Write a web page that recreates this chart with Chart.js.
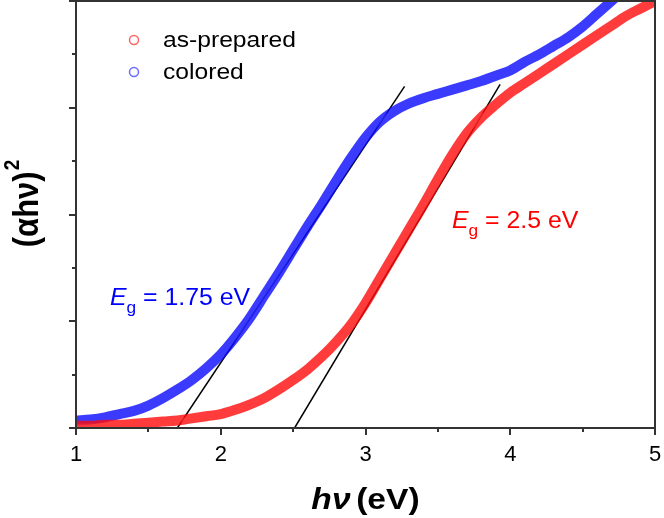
<!DOCTYPE html>
<html>
<head>
<meta charset="utf-8">
<script src="https://cdn.jsdelivr.net/npm/chart.js@4.4.0/dist/chart.umd.min.js"></script>
<style>
  html, body { margin: 0; background: #fff; }
</style>
</head>
<body>
<canvas id="myChart" width="664" height="518"></canvas>
<script>
// data: (alpha h nu)^2 against photon energy
const coloredX = [1.0, 1.1, 1.2, 1.3, 1.4, 1.5, 1.6, 1.7, 1.8, 1.9, 2.0, 2.1, 2.2, 2.3, 2.4, 2.5, 2.6, 2.7, 2.8, 2.9,
    3.0, 3.1, 3.2, 3.3, 3.4, 3.5, 3.6, 3.7, 3.8, 3.9, 4.0, 4.1, 4.2, 4.3, 4.4, 4.5, 4.6, 4.7, 4.75];
const coloredY = [0.07, 0.08, 0.10, 0.13, 0.16, 0.21, 0.28, 0.36, 0.45, 0.56, 0.69, 0.85, 1.03, 1.24, 1.45, 1.67, 1.89, 2.10, 2.32, 2.53,
    2.72, 2.87, 2.97, 3.04, 3.09, 3.13, 3.17, 3.21, 3.25, 3.30, 3.35, 3.43, 3.50, 3.58, 3.66, 3.76, 3.88, 4.0, 4.06];

const preparedX = [1.0, 1.1, 1.2, 1.3, 1.4, 1.5, 1.6, 1.7, 1.8, 1.9, 2.0, 2.1, 2.2, 2.3, 2.4, 2.5, 2.6, 2.7, 2.8, 2.9,
    3.0, 3.1, 3.2, 3.3, 3.4, 3.5, 3.6, 3.7, 3.8, 3.9, 4.0, 4.1, 4.2, 4.3, 4.4, 4.5, 4.6, 4.7, 4.8, 4.9, 5.0];
const preparedY = [0.02, 0.02, 0.03, 0.03, 0.04, 0.05, 0.06, 0.07, 0.09, 0.11, 0.13, 0.17, 0.22, 0.28, 0.36, 0.45, 0.55, 0.67, 0.81, 0.97,
    1.17, 1.40, 1.63, 1.86, 2.09, 2.33, 2.56, 2.76, 2.91, 3.03, 3.14, 3.23, 3.32, 3.41, 3.50, 3.59, 3.68, 3.77, 3.86, 3.93, 4.0];

// tangent lines (x, y) end points
const fitColoredX = [1.70, 3.27];
const fitColoredY = [0, 3.20];
const fitPreparedX = [2.51, 3.93];
const fitPreparedY = [0, 3.22];

const seriesLabels = ["as-prepared", "colored"];
const gapLabels = ["2.5 eV", "1.75 eV"];
const xTicks = [1, 2, 3, 4, 5];
const xMinor = [1.5, 2.5, 3.5, 4.5];
const yMajor = [0, 1, 2, 3, 4];
const yMinor = [0.5, 1.5, 2.5, 3.5];

const FONT = "'Liberation Sans', Arial, sans-serif";
const RED = "rgb(255, 0, 0)";
const BLUE = "rgb(0, 0, 255)";
const SX = 1.12; // text in the picture is a bit wide

function pts(xs, ys) {
    return xs.map((x, i) => ({ x: x, y: ys[i] }));
}

// draws frame, minor ticks, legend, labels
const extras = {
    id: "extras",
    afterDatasetsDraw(chart) {
        const ctx = chart.ctx;
        const a = chart.chartArea;
        const xs = chart.scales.x;
        const ys = chart.scales.y;
        ctx.save();
        ctx.strokeStyle = "#333";
        ctx.lineWidth = 2;
        ctx.strokeRect(a.left, a.top, a.right - a.left, a.bottom - a.top);

        ctx.beginPath();
        xMinor.forEach(v => {
            const px = Math.round(xs.getPixelForValue(v));
            ctx.moveTo(px, a.bottom);
            ctx.lineTo(px, a.bottom + 4);
        });
        yMinor.forEach(v => {
            const py = Math.round(ys.getPixelForValue(v));
            ctx.moveTo(a.left, py);
            ctx.lineTo(a.left - 4, py);
        });
        ctx.stroke();

        // legend
        const legendCol = ["rgba(255,60,60,0.8)", "rgba(70,70,255,0.8)"];
        seriesLabels.forEach((lab, i) => {
            const y = 40 + i * 32;
            ctx.beginPath();
            ctx.lineWidth = 1.5;
            ctx.strokeStyle = legendCol[i];
            ctx.arc(134, y, 4.5, 0, Math.PI * 2);
            ctx.stroke();
            ctx.save();
            ctx.translate(163, y + 1);
            ctx.scale(SX, 1);
            ctx.textBaseline = "middle";
            ctx.font = "22px " + FONT;
            ctx.fillStyle = "#000";
            ctx.fillText(lab, 0, 0);
            ctx.restore();
        });

        // band gap notes
        function gap(txt, x, y, col) {
            ctx.save();
            ctx.translate(x, y);
            ctx.scale(1.08, 1);
            ctx.textBaseline = "alphabetic";
            ctx.fillStyle = col;
            ctx.font = "italic 23px " + FONT;
            ctx.fillText("E", 0, 0);
            let w = ctx.measureText("E").width;
            ctx.font = "16px " + FONT;
            ctx.fillText("g", w, 8);
            w += ctx.measureText("g").width;
            ctx.font = "23px " + FONT;
            ctx.fillText(" = " + txt, w, 0);
            ctx.restore();
        }
        gap(gapLabels[0], 452, 228, RED);
        gap(gapLabels[1], 110, 305, BLUE);

        // x axis title
        ctx.save();
        ctx.fillStyle = "#000";
        ctx.textBaseline = "alphabetic";
        ctx.font = "italic bold 30px " + FONT;
        const t1 = "h\u03bd";
        const w1 = ctx.measureText(t1).width + 5;
        ctx.font = "bold 30px " + FONT;
        const t2 = "(eV)";
        const w2 = ctx.measureText(t2).width;
        ctx.translate((a.left + a.right) / 2 - (w1 + w2) * SX / 2, 509);
        ctx.scale(SX, 1);
        ctx.font = "italic bold 30px " + FONT;
        ctx.fillText(t1, 0, 0);
        ctx.font = "bold 30px " + FONT;
        ctx.fillText(t2, w1, 0);
        ctx.restore();

        // y axis title
        ctx.save();
        ctx.fillStyle = "#000";
        ctx.translate(28, 204);
        ctx.rotate(-Math.PI / 2);
        ctx.scale(1, SX);
        ctx.textBaseline = "middle";
        ctx.font = "bold 31px " + FONT;
        const t3 = "(\u03b1h\u03bd)";
        const w3 = ctx.measureText(t3).width;
        ctx.font = "bold 19px " + FONT;
        const w4 = ctx.measureText("2").width;
        const x0 = -(w3 + w4) / 2;
        ctx.font = "bold 31px " + FONT;
        ctx.fillText(t3, x0, 0);
        ctx.font = "bold 19px " + FONT;
        ctx.fillText("2", x0 + w3 + 1, -13);
        ctx.restore();

        ctx.restore();
    }
};

function band(label, data, col) {
    return {
        label: label,
        data: data,
        borderColor: col,
        borderWidth: 10,
        cubicInterpolationMode: "monotone",
        pointRadius: 0
    };
}

function core(data) {
    return {
        data: data,
        borderColor: "rgba(255, 255, 255, 0.45)",
        borderWidth: 4,
        cubicInterpolationMode: "monotone",
        pointRadius: 0
    };
}

const ctx = document.getElementById("myChart").getContext("2d");
const prepared = pts(preparedX, preparedY);
const colored = pts(coloredX, coloredY);

const chart = new Chart(ctx, {
    type: "line",
    data: {
        datasets: [
            band(seriesLabels[0], prepared, "rgba(255, 10, 10, 0.8)"),
            core(prepared),
            band(seriesLabels[1], colored, "rgba(10, 10, 255, 0.8)"),
            core(colored),
            {
                data: pts(fitColoredX, fitColoredY),
                borderColor: "#000",
                borderWidth: 1.5,
                pointRadius: 0
            },
            {
                data: pts(fitPreparedX, fitPreparedY),
                borderColor: "#000",
                borderWidth: 1.5,
                pointRadius: 0
            }
        ]
    },
    options: {
        responsive: false,
        animation: false,
        devicePixelRatio: 1,
        layout: { padding: { top: 1, right: 9, left: 0, bottom: 0 } },
        plugins: { legend: { display: false }, tooltip: { enabled: false } },
        scales: {
            x: {
                type: "linear",
                min: 1,
                max: 5,
                afterBuildTicks: s => { s.ticks = xTicks.map(v => ({ value: v })); },
                afterFit: s => { s.height = 90; s.paddingLeft = 0; s.paddingRight = 0; },
                ticks: { color: "#000", font: { size: 22, family: FONT }, padding: 7 },
                grid: { display: true, drawOnChartArea: false, tickLength: 7, lineWidth: 2, color: "#333" },
                border: { display: true, color: "#333", width: 2 }
            },
            y: {
                type: "linear",
                min: 0,
                max: 4,
                afterBuildTicks: s => { s.ticks = yMajor.map(v => ({ value: v })); },
                afterFit: s => { s.width = 76; s.paddingTop = 0; s.paddingBottom = 0; },
                ticks: { display: false },
                grid: { display: true, drawOnChartArea: false, tickLength: 7, lineWidth: 2, color: "#333" },
                border: { display: true, color: "#333", width: 2 }
            }
        }
    },
    plugins: [extras]
});
</script>
</body>
</html>
